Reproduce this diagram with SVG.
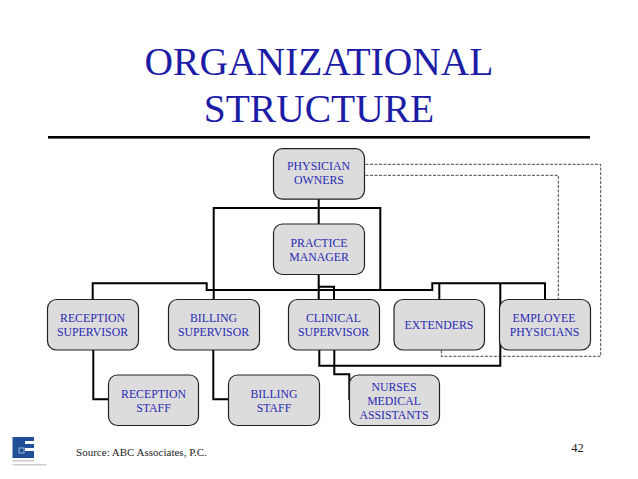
<svg xmlns="http://www.w3.org/2000/svg" width="638" height="479" viewBox="0 0 638 479">
<style>
text{font-family:"Liberation Serif","Times New Roman",serif;text-anchor:middle}
.t{font-size:39.5px;fill:#1c1ca6}
.n rect{fill:#dcdcdc;stroke:#222;stroke-width:1.2}
.n text{font-size:11.8px;fill:#2a2ab4}
.c path{fill:none;stroke:#000;stroke-width:2}
.c path.d{stroke:#333;stroke-width:.9;stroke-dasharray:3 1.5}
.s{font-size:11px;fill:#222}
.p{font-size:12.500px;fill:#222}
</style>
<rect width="638" height="479" fill="#fff"/>
<text class="t" x="319" y="75">ORGANIZATIONAL</text>
<text class="t" x="319" y="122">STRUCTURE</text>
<rect x="48" y="136" width="542" height="2.6" fill="#000"/>
<g id="connectors" class="c">
<path class="d" d="M361 164.3H600.7V356.3H441.3V350"/>
<path class="d" d="M361 175.3H558.3V299"/>
<path d="M318.7 199V224M318.7 274V299M213.7 299V208H380.3V290"/>
<path d="M92.7 299V283.3H206.7V290H432.3V283.3H545V299M439.3 283.3V299"/>
<path d="M318.7 286.7H334V299"/>
<path d="M319.3 350V365.7H500.3V283.3"/>
<path d="M334.3 350V374.3H349.3V400"/>
<path d="M93.3 350V399.3H108M213.3 350V399.3H228"/>
</g>
<g id="physician-owners" class="n"><rect x="273.5" y="148.7" width="91" height="50.5" rx="9"/><text x="318.5" y="170">PHYSICIAN</text><text x="319" y="184">OWNERS</text></g>
<g id="practice-manager" class="n"><rect x="273.5" y="224" width="91" height="50.5" rx="9"/><text x="319" y="247">PRACTICE</text><text x="319" y="261">MANAGER</text></g>
<g id="reception-supervisor" class="n"><rect x="47.5" y="299.5" width="91" height="50.5" rx="9"/><text x="92.5" y="322">RECEPTION</text><text x="92.5" y="336">SUPERVISOR</text></g>
<g id="billing-supervisor" class="n"><rect x="168.5" y="299.5" width="91" height="50.5" rx="9"/><text x="213.5" y="322">BILLING</text><text x="213.5" y="336">SUPERVISOR</text></g>
<g id="clinical-supervisor" class="n"><rect x="288.5" y="299.5" width="91" height="50.5" rx="9"/><text x="333.5" y="322">CLINICAL</text><text x="333.5" y="336">SUPERVISOR</text></g>
<g id="extenders" class="n"><rect x="394" y="299.5" width="90.5" height="50.5" rx="9"/><text x="439" y="329">EXTENDERS</text></g>
<g id="employee-physicians" class="n"><rect x="499.5" y="299.5" width="91" height="50.5" rx="9"/><text x="544" y="322">EMPLOYEE</text><text x="544.5" y="336">PHYSICIANS</text></g>
<g id="reception-staff" class="n"><rect x="108.5" y="375" width="90" height="50.5" rx="9"/><text x="153.5" y="398">RECEPTION</text><text x="153.5" y="412">STAFF</text></g>
<g id="billing-staff" class="n"><rect x="228.5" y="375" width="91" height="50.5" rx="9"/><text x="274" y="398">BILLING</text><text x="274" y="412">STAFF</text></g>
<g id="nurses" class="n"><rect x="349.5" y="375" width="90" height="50.5" rx="9"/><text x="394" y="391">NURSES</text><text x="394" y="405">MEDICAL</text><text x="394" y="419">ASSISTANTS</text></g>
<text class="s" x="141.500" y="456">Source:  ABC Associates, P.C.</text>
<text class="p" x="577.500" y="452">42</text>
<g id="logo">
<rect x="12.500" y="437" width="21.500" height="21" fill="#1f4f96"/>
<rect x="25" y="441" width="9" height="3" fill="#fff"/>
<rect x="25" y="448" width="9" height="3" fill="#fff"/>
<rect x="19" y="448" width="5" height="5" fill="none" stroke="#9db4d6"/>
<rect x="12.500" y="460" width="22" height="1.500" fill="#ccc"/>
<rect x="12.500" y="464" width="34" height="1.500" fill="#ccc"/>
</g>
</svg>
